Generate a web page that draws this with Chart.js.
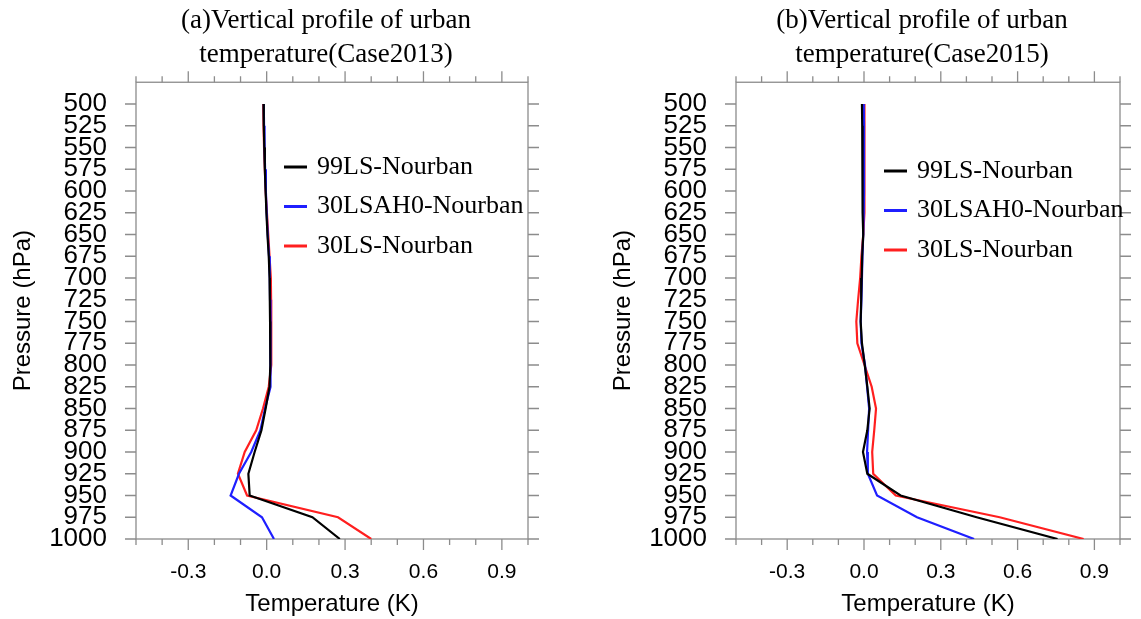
<!DOCTYPE html>
<html>
<head>
<meta charset="utf-8">
<script src="https://cdn.jsdelivr.net/npm/chart.js@4"></script>
<style>
  html, body { margin: 0; padding: 0; background: #fff; overflow: hidden; }
  #chartA { position: absolute; left: 0; top: 0; }
  #chartB { position: absolute; left: 600px; top: 0; }
</style>
</head>
<body>
<canvas id="chartA" width="570" height="619"></canvas>
<canvas id="chartB" width="541" height="619"></canvas>
<script>
// pressure levels (hPa), top to bottom
const levels = [500, 525, 550, 575, 600, 625, 650, 675, 700, 725, 750,
                775, 800, 825, 850, 875, 900, 925, 950, 975, 1000];

const seriesNames = ['99LS-Nourban', '30LSAH0-Nourban', '30LS-Nourban'];
const seriesColors = ['#000000', '#1f1fff', '#ff1f1f'];

// (a) Case2013, temperature difference (K)
const a99LS   = [-0.012, -0.011, -0.009, -0.007, -0.004, -0.001, 0.003, 0.008, 0.011, 0.012, 0.013,
                 0.014, 0.014, 0.011, -0.004, -0.020, -0.046, -0.070, -0.065, 0.175, 0.280];
const a30LSAH0 = [-0.011, -0.010, -0.008, -0.006, -0.003, 0.000, 0.004, 0.009, 0.012, 0.013, 0.014,
                 0.015, 0.016, 0.014, -0.006, -0.024, -0.059, -0.106, -0.138, -0.018, 0.028];
const a30LS   = [-0.013, -0.012, -0.010, -0.007, -0.004, 0.001, 0.006, 0.011, 0.016, 0.017, 0.018,
                 0.018, 0.017, 0.008, -0.014, -0.040, -0.084, -0.110, -0.075, 0.273, 0.400];

// (b) Case2015
const b99LS   = [-0.008, -0.007, -0.007, -0.006, -0.005, -0.004, -0.003, -0.007, -0.009, -0.011, -0.013,
                 -0.008, 0.003, 0.013, 0.022, 0.013, -0.004, 0.013, 0.143, 0.440, 0.756];
const b30LSAH0 = [-0.001, 0.000, 0.000, 0.000, 0.000, -0.001, -0.003, -0.006, -0.008, -0.010, -0.013,
                 -0.010, 0.004, 0.012, 0.020, 0.016, 0.012, 0.015, 0.051, 0.207, 0.430];
const b30LS   = [0.001, 0.002, 0.002, 0.002, 0.002, 0.001, -0.003, -0.010, -0.015, -0.023, -0.030,
                 -0.026, 0.002, 0.030, 0.047, 0.040, 0.032, 0.036, 0.124, 0.530, 0.858];

const xMin = -0.5, xMax = 1.0, xStep = 0.1, xLabelStep = 0.3;
const yMin = 475, yMax = 1000, yStep = 25;

const titleA = ['(a)Vertical profile of urban', 'temperature(Case2013)'];
const titleB = ['(b)Vertical profile of urban', 'temperature(Case2015)'];

const SANS = '"Liberation Sans", Arial, sans-serif';
const SERIF = '"Liberation Serif", "Times New Roman", serif';
const FRAME = '#8c8c8c';

// frame box + outward ticks on all four sides
const frameTicks = {
  id: 'frameTicks',
  beforeDatasetsDraw(chart) {
    const {ctx, chartArea: a, scales: {x, y}} = chart;
    ctx.save();
    ctx.strokeStyle = FRAME;
    ctx.lineWidth = 1.3;
    ctx.strokeRect(a.left, a.top, a.right - a.left, a.bottom - a.top);
    ctx.beginPath();
    x.ticks.forEach(t => {
      const px = x.getPixelForValue(t.value);
      const len = t.label ? 11 : 6;
      ctx.moveTo(px, a.bottom); ctx.lineTo(px, a.bottom + len);
      ctx.moveTo(px, a.top); ctx.lineTo(px, a.top - len);
    });
    y.ticks.forEach(t => {
      if (t.value < levels[0]) return;
      const py = y.getPixelForValue(t.value);
      ctx.moveTo(a.left - 11, py); ctx.lineTo(a.left, py);
      ctx.moveTo(a.right, py); ctx.lineTo(a.right + 11, py);
    });
    ctx.stroke();
    ctx.restore();
  },
  afterDraw(chart, args, opts) {
    const {ctx, chartArea: a} = chart;
    ctx.save();
    // two-line title
    ctx.fillStyle = '#000';
    ctx.font = '27px ' + SERIF;
    ctx.textAlign = 'center';
    ctx.textBaseline = 'middle';
    const cx = (a.left + a.right) / 2 - 6;
    opts.title.forEach((line, i) => ctx.fillText(line, cx, 21 + i * 34));
    // legend inside plot
    ctx.font = '26px ' + SERIF;
    ctx.textAlign = 'left';
    chart.data.datasets.forEach((ds, i) => {
      const ly = opts.legendTop + i * 39.5;
      const lx = a.left + 148;
      ctx.strokeStyle = ds.borderColor;
      ctx.lineWidth = 3;
      ctx.beginPath();
      ctx.moveTo(lx, ly); ctx.lineTo(lx + 23, ly);
      ctx.stroke();
      ctx.fillText(ds.label, lx + 33, ly);
    });
    ctx.restore();
  }
};

function makeChart(id, title, series, legendTop, rightPad) {
  return new Chart(document.getElementById(id), {
    type: 'line',
    data: {
      datasets: series.map((vals, i) => ({
        label: seriesNames[i],
        data: levels.map((p, k) => ({x: vals[k], y: p})),
        borderColor: seriesColors[i],
        borderWidth: 2.2,
        pointRadius: 0,
        tension: 0,
        fill: false
      }))
    },
    options: {
      responsive: false,
      animation: false,
      layout: {padding: {top: 82.25, left: 0, right: rightPad, bottom: 0}},
      plugins: {
        legend: {display: false},
        title: {display: false},
        tooltip: {enabled: false},
        frameTicks: {title: title, legendTop: legendTop}
      },
      scales: {
        x: {
          type: 'linear',
          min: xMin, max: xMax,
          afterFit: s => { s.height = 80; },
          grid: {display: false, drawTicks: false},
          border: {display: false},
          ticks: {
            stepSize: xStep,
            autoSkip: false,
            maxRotation: 0,
            padding: 21,
            color: '#000',
            font: {family: SANS, size: 21},
            callback: v => {
              const r = v / xLabelStep;
              if (Math.abs(r - Math.round(r)) > 1e-6) return '';
              return Math.abs(v) < 1e-9 ? '0.0' : v.toFixed(1);
            }
          },
          title: {display: true, text: 'Temperature (K)', color: '#000',
                  font: {family: SANS, size: 24}, padding: {top: 0, bottom: 0}}
        },
        y: {
          type: 'linear',
          reverse: true,
          min: yMin, max: yMax,
          afterFit: s => { s.width = 136; },
          grid: {display: false, drawTicks: false},
          border: {display: false},
          ticks: {
            stepSize: yStep,
            autoSkip: false,
            padding: 29,
            color: '#000',
            font: {family: SANS, size: 26},
            callback: v => v < levels[0] ? '' : String(v)
          },
          title: {display: true, text: 'Pressure (hPa)', color: '#000',
                  font: {family: SANS, size: 24}, padding: {top: 9, bottom: 0}}
        }
      }
    },
    plugins: [frameTicks]
  });
}

makeChart('chartA', titleA, [a99LS, a30LSAH0, a30LS], 167, 42);
makeChart('chartB', titleB, [b99LS, b30LSAH0, b30LS], 171, 14);
</script>
</body>
</html>
